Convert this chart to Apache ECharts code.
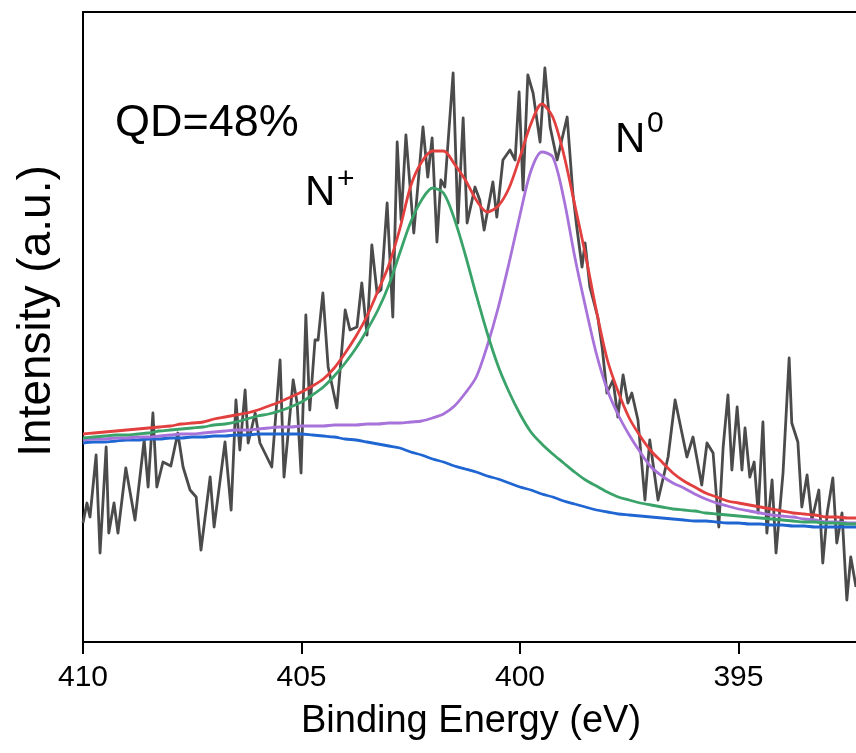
<!DOCTYPE html>
<html>
<head>
<meta charset="utf-8">
<script src="https://cdn.jsdelivr.net/npm/echarts@6/dist/echarts.min.js"></script>
<style>
html,body{margin:0;padding:0;background:#fff;}
#chart{width:856px;height:753px;}
</style>
</head>
<body>
<div id="chart"></div>
<script>
// Raw spectrum: binding energy (eV) and intensity (a.u.)
const rawEnergy = [410.00,409.91,409.84,409.70,409.61,409.47,409.41,409.29,409.20,409.02,408.81,408.60,408.51,408.40,408.31,408.17,407.99,407.83,407.71,407.55,407.41,407.30,407.09,407.00,406.75,406.61,406.50,406.41,406.29,406.22,406.06,405.95,405.68,405.49,405.40,405.19,405.10,405.01,404.90,404.81,404.69,404.62,404.51,404.39,404.19,404.00,403.89,403.73,403.62,403.50,403.39,403.27,403.18,403.04,402.91,402.81,402.72,402.61,402.43,402.22,402.11,402.01,401.90,401.81,401.72,401.53,401.42,401.30,401.21,401.03,400.92,400.82,400.62,400.53,400.39,400.23,400.11,400.02,399.93,399.82,399.70,399.54,399.43,399.31,399.15,398.92,398.79,398.70,398.58,398.51,398.40,398.22,398.12,398.01,397.87,397.76,397.64,397.53,397.44,397.30,397.14,397.03,396.84,396.61,396.45,396.18,396.04,395.84,395.72,395.58,395.45,395.35,395.24,395.15,395.03,394.92,394.85,394.74,394.64,394.55,394.44,394.35,394.23,394.14,393.98,393.84,393.78,393.64,393.55,393.43,393.32,393.16,393.07,392.97,392.84,392.75,392.63,392.52,392.43,392.31];
const rawIntensity = [119,139,125,187,89,195,109,139,109,174,122,202,155,229,155,180,176,209,175,152,145,92,165,115,200,132,242,192,252,199,229,199,175,282,165,262,239,169,327,232,302,302,349,275,234,332,312,315,359,307,397,349,352,439,325,500,422,507,409,515,465,504,400,462,455,569,419,524,419,455,442,412,460,425,482,492,482,550,452,567,549,500,574,515,482,525,449,415,375,399,355,325,295,249,262,225,267,239,249,222,142,202,142,185,242,185,205,157,199,189,115,195,247,172,235,172,214,165,180,129,220,109,162,89,169,284,219,200,135,167,122,152,79,129,164,99,129,42,85,55];

// Fitted curves, read every 0.25 eV from 410 down to 392.25
const fitEnergy = [410,409.75,409.5,409.25,409,408.75,408.5,408.25,408,407.75,407.5,407.25,407,406.75,406.5,406.25,406,405.75,405.5,405.25,405,404.75,404.5,404.25,404,403.75,403.5,403.25,403,402.75,402.5,402.25,402,401.75,401.5,401.25,401,400.75,400.5,400.25,400,399.75,399.5,399.25,399,398.75,398.5,398.25,398,397.75,397.5,397.25,397,396.75,396.5,396.25,396,395.75,395.5,395.25,395,394.75,394.5,394.25,394,393.75,393.5,393.25,393,392.75,392.5,392.25];
const envelope = [208,209,210,211,212,213,214,215,216,218,219,220,223,225,227,229,232,236,240,245,250,256,263,274,289,306,326,351,377,413,456,480,491,491,478,462,442,430,436,454,485,518,538,525,488,438,387,331,282,250,224,206,191,180,169,161,155,149,145,141,139,137,135,133,131,129,128,127,125,125,124,124];
const nPlus = [204,205,206,207,207,208,209,211,212,213,214,215,217,218,220,223,226,228,231,235,240,247,255,266,279,294,312,332,357,389,420,442,454,449,423,387,347,309,276,250,228,210,198,188,179,170,162,156,150,145,142,139,137,135,133,132,131,129,128,127,126,125,124,123,122,121,120,120,119,119,118,118];
const nZero = [202,203,203,204,204,205,205,206,207,208,208,209,210,211,212,212,213,214,215,215,216,216,216,217,217,217,218,218,219,219,220,221,224,228,236,249,265,296,334,379,427,471,490,485,444,386,335,288,252,227,207,190,175,166,159,154,148,143,139,136,133,131,129,127,126,125,123,122,120,120,119,119];
const background = [199,200,200,201,202,202,203,203,204,204,205,205,206,206,207,207,208,208,208,208,208,207,206,205,203,202,200,198,196,194,190,187,183,180,176,173,170,166,163,159,155,152,148,145,141,138,135,132,130,128,127,126,125,124,123,122,121,121,120,119,119,118,118,117,117,116,116,115,115,115,115,115];

const xTicks = [410,405,400,395];
const X_MIN = 392.31, X_MAX = 410;

function pairs(xs, ys){ return xs.map((x,i)=>[x, ys[i]]); }

const chart = echarts.init(document.getElementById('chart'), null, {renderer:'canvas'});
const FONT = 'Liberation Sans, Arial, sans-serif';

function curve(name, ys, color){
  return {
    name, type:'line', data: pairs(fitEnergy, ys), smooth:0.3, symbol:'none',
    lineStyle:{color, width:2.8}, silent:true, z:3
  };
}

chart.setOption({
  animation:false,
  backgroundColor:'#ffffff',
  grid:{left:83, right:0, top:12, bottom:111, containLabel:false},
  xAxis:[{
    type:'value', min:X_MIN, max:X_MAX, inverse:true, position:'bottom',
    axisLine:{show:true, lineStyle:{color:'#000', width:2}},
    axisTick:{show:true, length:12, inside:false, customValues:xTicks, lineStyle:{color:'#000', width:2}},
    axisLabel:{show:true, customValues:xTicks, margin:21, color:'#000', fontSize:30, fontFamily:FONT},
    splitLine:{show:false}
  },{
    type:'value', min:X_MIN, max:X_MAX, inverse:true, position:'top',
    axisLine:{show:true, onZero:false, lineStyle:{color:'#000', width:2}},
    axisTick:{show:false}, axisLabel:{show:false}, splitLine:{show:false}
  }],
  yAxis:{
    type:'value', min:0, max:630,
    axisLine:{show:true, lineStyle:{color:'#000', width:2}},
    axisTick:{show:false}, axisLabel:{show:false}, splitLine:{show:false}
  },
  series:[
    {name:'Raw', type:'line', data: pairs(rawEnergy, rawIntensity), symbol:'none', smooth:false,
     lineStyle:{color:'#4b4b4b', width:2.8, join:'round'}, silent:true, z:2},
    curve('Background', background, '#1f66d2'),
    curve('N0', nZero, '#a772d9'),
    curve('N+', nPlus, '#3aa36a'),
    curve('Envelope', envelope, '#e23f3f')
  ],
  graphic:[
    {type:'text', x:115, y:124, style:{text:'QD=48%', font:'45px '+FONT, fill:'#000', align:'left', verticalAlign:'middle'}},
    {type:'text', x:305, y:193, style:{text:'N', font:'42px '+FONT, fill:'#000', align:'left', verticalAlign:'middle'}},
    {type:'text', x:337, y:180, style:{text:'+', font:'30px '+FONT, fill:'#000', align:'left', verticalAlign:'middle'}},
    {type:'text', x:615, y:140, style:{text:'N', font:'42px '+FONT, fill:'#000', align:'left', verticalAlign:'middle'}},
    {type:'text', x:647, y:124, style:{text:'0', font:'30px '+FONT, fill:'#000', align:'left', verticalAlign:'middle'}},
    {type:'text', x:37, y:311, rotation:Math.PI/2, style:{text:'Intensity (a.u.)', font:'46px '+FONT, fill:'#000', align:'center', verticalAlign:'middle'}},
    {type:'text', x:471, y:722, style:{text:'Binding Energy (eV)', font:'38px '+FONT, fill:'#000', align:'center', verticalAlign:'middle'}}
  ]
});
</script>
</body>
</html>
